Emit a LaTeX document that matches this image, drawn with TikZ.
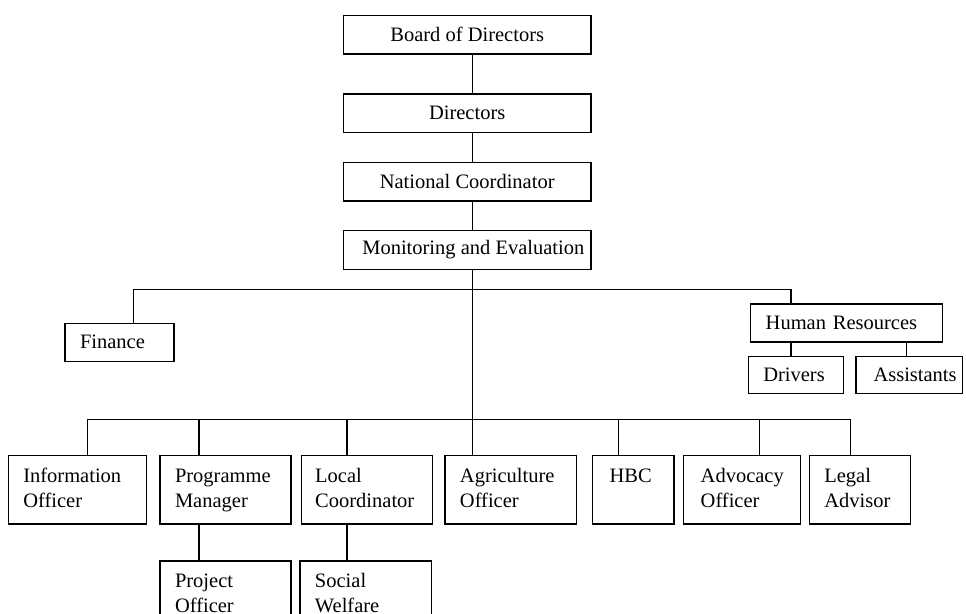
\documentclass[tikz,border=0pt]{standalone}
\usepackage{fontspec}
\setmainfont{Liberation Serif}
\begin{document}
\begin{tikzpicture}[x=1pt,y=-1pt,
  line width=1.4pt,
  every node/.style={font=\fontsize{20.5}{25}\selectfont},
  box/.style={draw, rectangle, inner ysep=0pt, inner xsep=15pt},
  headbox/.style={box, inner xsep=0pt, minimum width=247.7pt, minimum height=38.7pt},
  sidebox/.style={box, align=left, minimum height=38pt},
  unitbox/.style={box, align=left, minimum height=68.3pt}]
\useasboundingbox (0,0) rectangle (966,613);
\clip (0,0) rectangle (966,613);

% executive chain
\node[headbox] (bod) at (467.2,34.7)  {Board of Directors};
\node[headbox] (dir) at (467.2,113.2) {Directors};
\node[headbox] (nc)  at (467.2,181.7) {National Coordinator};
\node[headbox] (me)  at (467.2,250.0) {};
\node[inner sep=0pt] (metext) at (473.3,250.0) {Monitoring and Evaluation};

% support branches
\node[sidebox, text width=79pt]  (fin) at (119.5,342.3) {Finance};
\node[sidebox, text width=161.6pt] (hr) at (846.5,323.0) {Human Resources};
\node[sidebox, text width=65pt, minimum height=36.6pt] (drv) at (795.8,375.0) {Drivers};
\node[sidebox, inner xsep=6pt, text width=94.7pt, align=right, minimum height=36.6pt] (ast) at (909.3,375.0) {Assistants};

% programme units
\node[unitbox, text width=108pt]   (info) at (77.3,489.8)  {\strut Information\\\strut Officer};
\node[unitbox, text width=101pt]   (pm)   at (225.5,489.8) {\strut Programme\\\strut Manager};
\node[unitbox, inner xsep=13.5pt, text width=104pt] (lc) at (367.2,489.8) {\strut Local\\\strut Coordinator};
\node[unitbox, text width=101.7pt] (agr)  at (510.8,489.8) {\strut Agriculture\\\strut Officer};
\node[unitbox, inner xsep=17pt, text width=47.3pt] (hbc) at (633.3,489.8) {\strut HBC\\\strut};
\node[unitbox, inner xsep=17pt, text width=82.6pt] (adv) at (742.0,489.8) {\strut Advocacy\\\strut Officer};
\node[unitbox, text width=71.4pt]  (leg)  at (860.0,489.8) {\strut Legal\\\strut Advisor};
\node[unitbox, text width=101pt]   (po)   at (225.5,595.2) {\strut Project\\\strut Officer};
\node[unitbox, text width=101.7pt] (sw)   at (365.8,595.2) {\strut Social\\\strut Welfare};

% connector guides
\coordinate (trunk) at (472.7,0);
\coordinate (topbar) at (0,289.3);
\coordinate (lowbar) at (0,419.3);
\coordinate (xfin) at (133.3,0);
\coordinate (xhr)  at (791.0,0);
\coordinate (xast) at (906.7,0);
\coordinate (xinfo) at (87.7,0);
\coordinate (xpm)  at (199.0,0);
\coordinate (xlc)  at (347.0,0);
\coordinate (xhbc) at (618.3,0);
\coordinate (xadv) at (759.3,0);
\coordinate (xleg) at (850.3,0);

% main trunk
\draw (bod.south -| trunk) -- (dir.north -| trunk);
\draw (dir.south -| trunk) -- (nc.north -| trunk);
\draw (nc.south -| trunk) -- (me.north -| trunk);
\draw (me.south -| trunk) -- (agr.north -| trunk);

% upper bar
\draw (fin.north -| xfin) -- (xfin |- topbar) -- (xhr |- topbar) -- (hr.north -| xhr);
\draw (hr.south -| xhr) -- (drv.north -| xhr);
\draw (hr.south -| xast) -- (ast.north -| xast);

% lower bar
\draw (info.north -| xinfo) -- (xinfo |- lowbar) -- (xleg |- lowbar) -- (leg.north -| xleg);
\draw (xpm |- lowbar) -- (pm.north -| xpm);
\draw (xlc |- lowbar) -- (lc.north -| xlc);
\draw (xhbc |- lowbar) -- (hbc.north -| xhbc);
\draw (xadv |- lowbar) -- (adv.north -| xadv);

% second-level units
\draw (pm.south -| xpm) -- (po.north -| xpm);
\draw (lc.south -| xlc) -- (sw.north -| xlc);
\end{tikzpicture}
\end{document}
